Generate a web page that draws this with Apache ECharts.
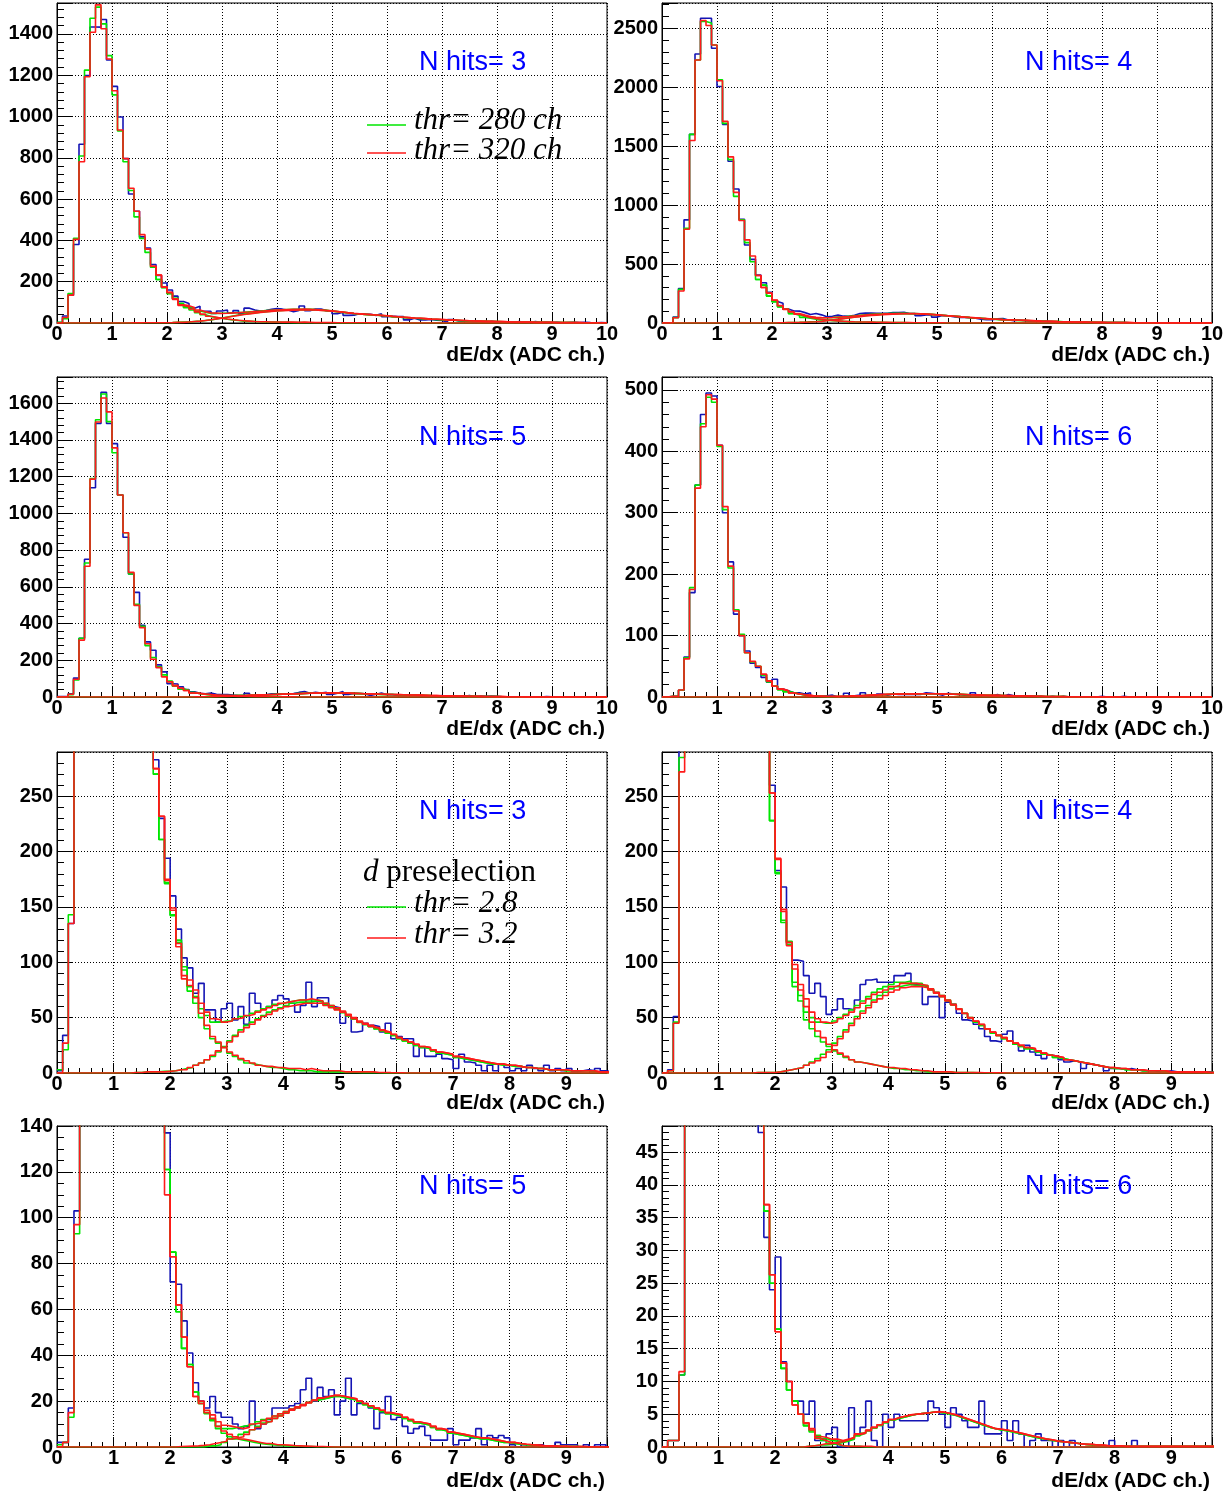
<!DOCTYPE html>
<html>
<head>
<meta charset="utf-8">
<script src="https://cdn.jsdelivr.net/npm/echarts@6/dist/echarts.min.js"></script>
<style>
  html, body { margin: 0; padding: 0; background: #ffffff; }
  #chart { width: 1228px; height: 1494px; }
</style>
</head>
<body>
<div id="chart"></div>
<script>
// dE/dx spectra, bin width 0.1 ADC ch.; bin i covers [i/10, (i+1)/10).
// "data" = measured, "thr280"/"thr320" = simulated totals (thr= 280 / 320 ch, i.e. 2.8 / 3.2),
// "low" = falling (light particle) component, "d" = deuteron component.

// ---------- N hits = 3 ----------
const hits3Data = [
  2,34,135,380,866,1198,1434,1433,1470,1274,
  1146,998,796,625,541,417,363,283,230,194,
  160,130,104,95,72,81,57,57,46,58,
  63,48,60,44,72,63,58,60,66,70,
  67,63,55,61,82,60,68,68,60,59,
  45,52,37,38,45,43,42,37,45,31,
  33,31,31,15,23,15,15,17,13,12,
  4,17,10,9,7,2,7,2,8,5,
  2,4,2,7,4,2,7,2,4,2,
  4,1,2,3,2,4,2,1,2,1];
const hits3Thr280 = [
  3,21,143,410,809,1225,1476,1530,1449,1295,
  1105,930,781,642,514,410,342,270,211,172,
  143,120,96,78,69,58,52,46,46,47,
  47,49,51,52,54,56,58,60,62,63,
  64,65,66,66,66,66,65,63,61,58,
  55,52,49,46,44,42,40,38,36,34,
  31,29,27,25,23,22,20,18,17,16,
  14,13,12,11,10,9,8,8,7,7,
  6,6,5,5,4,4,3,3,3,2,
  2,2,2,2,1,1,1,1,1,1];
const hits3Thr320 = [
  0,27,135,405,781,1193,1408,1541,1425,1279,
  1125,935,796,653,541,428,358,275,232,175,
  149,117,88,84,75,63,55,49,48,46,
  47,49,50,52,53,55,57,59,61,63,
  64,65,66,66,67,66,65,63,61,59,
  56,53,50,47,45,43,41,39,37,35,
  32,30,28,26,24,23,21,19,18,17,
  15,14,13,12,11,10,9,8,8,7,
  7,6,5,5,4,4,3,3,3,3,
  2,2,2,2,2,1,1,1,1,1];
const hits3LowStart = 17;
const hits3Low280 = [
  270,211,171,142,118,93,74,63,50,40,
  31,27,23,18,15,12,9,8,7,6,
  5,5,4,3,3,2,2,2,1,1,
  1,1,1,0.5,0.5,0.5,0.3,0.3,0.2,0.2,
  0.1,0.1,0,0,0,0,0,0,0,0,
  0,0,0,0,0,0,0,0,0,0,
  0,0,0,0,0,0,0,0,0,0,
  0,0,0,0,0,0,0,0,0,0,
  0,0,0];
const hits3Low320 = [
  275,232,174,147,114,85,79,68,54,43,
  33,28,23,19,16,13,11,9,7,6,
  6,5,5,4,4,4,3,4,3,2,
  2,2,2,1,1,1,1,1,1,0.5,
  0.5,0.3,0.2,0.1,0,0,0,0,0,0,
  0,0,0,0,0,0,0,0,0,0,
  0,0,0,0,0,0,0,0,0,0,
  0,0,0,0,0,0,0,0,0,0,
  0,0,0];
const hits3D280 = [
  0,0,0,0,0,0,0,0,0,0,
  0,0,0,0.5,0.5,1,1,1,1.5,1.5,
  2,3,4,5,7,9,12,15,19,24,
  29,34,39,43,46,49,52,55,57,59,
  61,63,64,64,64,65,64,62,60,57.5,
  54.5,51.5,48.5,45.7,43.7,41.8,39.8,37.9,36,34,
  31,29,27,25,23,22,20,18,17,16,
  14,13,12,11,10,9,8,8,7,7,
  6,6,5,5,4,4,3,3,3,2,
  2,2,2,2,1,1,1,1,1,1];
const hits3D320 = [
  0,0,0,0,0,0,0,0,0,0,
  0,0,0,0.5,0.5,1,1,1,1,1.5,
  2,3,3,5,7,9,12,16,20,23,
  28,33,37,41,44,48,51,53,56,58,
  60,61,62,63,63,63,63,61,59,57,
  55,52,49,46,44,42,40.5,38.5,36.7,34.8,
  32,30,28,26,24,23,21,19,18,17,
  15,14,13,12,11,10,9,8,8,7,
  7,6,5,5,4,4,3,3,3,3,
  2,2,2,2,2,1,1,1,1,1];

// ---------- N hits = 4 ----------
const hits4Data = [
  0,3,51,292,875,1600,2281,2585,2585,2330,
  2006,1685,1372,1136,880,662,540,406,341,260,
  183,168,118,102,101,88,72,81,69,53,
  57,67,58,57,66,80,84,85,82,82,
  82,88,88,90,80,80,62,69,69,50,
  64,62,54,48,47,44,40,33,29,28,
  35,38,26,20,25,19,16,13,16,15,
  12,10,11,10,4,8,7,6,2,4,
  4,3,4,3,2,2,2,1,1,2,
  1,1,1,1,1,1,1,0,1,0];
const hits4Thr280 = [
  0,2,46,285,804,1600,2230,2557,2545,2358,
  2063,1693,1386,1074,875,682,520,369,321,228,
  181,138,119,82,70,55,50,46,45,45,
  47,50,53,57,61,65,69,73,76,78,
  80,82,82,83,81,81,79,76,73,70,
  66,62,58,54,50,46,43,40,36,34,
  31,29,26,24,22,21,19,17,16,14,
  13,12,11,10,9,8,7,6,5,4,
  4,3,3,3,2,2,2,2,1,1,
  1,1,1,1,1,0.5,0.5,0.5,0.5,0.5];
const hits4Thr320 = [
  0,2,45,272,795,1548,2230,2565,2523,2358,
  2054,1710,1409,1108,869,705,568,403,301,253,
  194,148,118,98,80,67,55,49,46,45,
  46,49,52,55,59,63,67,71,73,75,
  78,79,81,81,81,80,79,76,73,70,
  66,62,58,54,50,47,44,40,37,34,
  32,29,27,25,23,22,20,18,16,15,
  14,12,11,10,9,8,7,6,5,5,
  4,4,3,3,3,2,2,2,2,1,
  1,1,1,1,1,1,0.5,0.5,0.5,0.5];
const hits4LowStart = 17;
const hits4Low280 = [
  369,321,228,180,136,116,78,65,48,40,
  33,28,24,20,17,14,12,10,9,8,
  7,6,5,4,4,3,3,2,2,1,
  1,1,1,1,0.5,0.5,0.3,0.3,0.2,0.2,
  0.1,0.1,0,0,0,0,0,0,0,0,
  0,0,0,0,0,0,0,0,0,0,
  0,0,0,0,0,0,0,0,0,0,
  0,0,0,0,0,0,0,0,0,0,
  0,0,0];
const hits4Low320 = [
  403,301,253,193,146,115,94,75,60,46,
  38,32,26,21,18,15,12,10,9,8,
  7,6,5,5,4,4,3,3,2,2,
  1,1,1,1,0.5,0.5,0.5,0.3,0.3,0.2,
  0.2,0.1,0.1,0,0,0,0,0,0,0,
  0,0,0,0,0,0,0,0,0,0,
  0,0,0,0,0,0,0,0,0,0,
  0,0,0,0,0,0,0,0,0,0,
  0,0,0];
const hits4D280 = [
  0,0,0,0,0,0,0,0,0,0,
  0,0,0,0,0,0,0.5,0.5,0.5,0.5,
  1,2,3,4,5,7,10,13,17,21,
  27,33,39,45,51,56,61,66,70,73,
  76,78,79,80,79,79,78,75,72,69,
  65,61.5,57.7,53.7,49.8,45.8,42.9,39.9,36,34,
  31,29,26,24,22,21,19,17,16,14,
  13,12,11,10,9,8,7,6,5,4,
  4,3,3,3,2,2,2,2,1,1,
  1,1,1,1,1,0.5,0.5,0.5,0.5,0.5];
const hits4D320 = [
  0,0,0,0,0,0,0,0,0,0,
  0,0,0,0,0,0,0.5,0.5,0.5,0.5,
  1,2,3,4,5,7,9,11,14,19,
  25,31,37,43,49,54,59,64,67,70,
  73,75,77,78,78,78,77,75,72,69,
  65,61.5,57.5,53.7,49.7,46.8,43.8,39.9,36.9,34,
  32,29,27,25,23,22,20,18,16,15,
  14,12,11,10,9,8,7,6,5,5,
  4,4,3,3,3,2,2,2,2,1,
  1,1,1,1,1,1,0.5,0.5,0.5,0.5];

// ---------- N hits = 5 ----------
const hits5Data = [
  2,2,17,103,320,750,1140,1490,1660,1490,
  1380,1100,870,670,570,390,300,255,175,137,
  72,71,55,41,28,20,17,22,15,13,
  13,10,8,9,20,8,10,12,17,17,
  17,18,19,25,30,20,26,22,25,14,
  20,30,14,19,19,17,8,15,22,12,
  13,9,6,8,9,5,3,3,3,8,
  1,3,3,4,8,1,5,4,5,4,
  1,0,1,0,0,1,0,0,2,1,
  1,1,0,1,0,1,1,0,0,0];
const hits5Thr280 = [
  1,2,13,93,320,730,1190,1510,1650,1500,
  1330,1100,895,670,505,385,280,215,165,121,
  85,59,43,36,24,19,15,12,9,8,
  8,8.5,9,9.5,10,11,12,12.5,13.5,14.5,
  15.5,16.5,17.5,18.5,19.5,20.5,21,21.5,22,22,
  21.5,21,20.5,19.5,18.5,17.5,16.5,15.5,14.5,14,
  13.5,12.5,11.5,10.5,10,9.5,8.5,7.5,7,6,
  5.5,5,4.5,4,3.5,3.5,3,2.5,2,2,
  1.5,1.2,1,0.8,0.6,0.5,0.4,0.3,0.3,0.2,
  0.2,0.2,0.1,0.1,0.1,0.1,0.1,0.1,0.1,0.1];
const hits5Thr320 = [
  0,2,15,97,310,712,1187,1498,1629,1553,
  1357,1100,895,679,499,378,290,206,160,110,
  83,62,48,35,22,20,16,14,11,9.5,
  9,8.5,8,8.5,10,10.5,11.5,12.5,13.5,14.5,
  15.5,16.5,17.5,18.5,19.5,20.5,21.5,22,22.5,22.5,
  22,21.5,21,20,19,18,17,16,15,14.5,
  14,13,12,11,10.5,10,9,8,7.5,6.5,
  6,5.5,5,4.5,4,4,3.5,3,2.5,2,
  2,1.5,1.2,1,0.8,0.6,0.5,0.4,0.3,0.3,
  0.2,0.2,0.2,0.1,0.1,0.1,0.1,0.1,0.1,0.1];
const hits5LowStart = 19;
const hits5Low280 = [
  121,85,59,43,36,24,19,14.5,11.5,8,
  6,4.5,3.5,3,2.5,2,1.5,1.2,1,0.8,
  0.6,0.5,0.4,0.3,0.2,0.2,0.1,0.1,0,0,
  0,0,0,0,0,0,0,0,0,0,
  0,0,0,0,0,0,0,0,0,0,
  0,0,0,0,0,0,0,0,0,0,
  0,0,0,0,0,0,0,0,0,0,
  0,0,0,0,0,0,0,0,0,0,
  0];
const hits5Low320 = [
  110,83,62,48,35,22,19,15,12.5,9,
  7,5.5,4.5,3.5,3,2.5,2,1.5,1.5,1,
  1,0.8,0.6,0.5,0.4,0.3,0.2,0.2,0.1,0,
  0,0,0,0,0,0,0,0,0,0,
  0,0,0,0,0,0,0,0,0,0,
  0,0,0,0,0,0,0,0,0,0,
  0,0,0,0,0,0,0,0,0,0,
  0,0,0,0,0,0,0,0,0,0,
  0];
const hits5D280 = [
  0,0,0,0,0,0,0,0,0,0,
  0,0,0,0,0,0,0,0,0,0,
  0,0,0,0,0,0,0.5,0.5,1,2,
  3.5,4.5,5.5,6.5,7.5,9,10.5,11.3,12.5,13.7,
  14.9,16,17,18.2,19.3,20.3,20.8,21.4,22,22,
  21.5,21,20.5,19.5,18.5,17.5,16.5,15.5,14.5,14,
  13.5,12.5,11.5,10.5,10,9.5,8.5,7.5,7,6,
  5.5,5,4.5,4,3.5,3.5,3,2.5,2,2,
  1.5,1.2,1,0.8,0.6,0.5,0.4,0.3,0.3,0.2,
  0.2,0.2,0.1,0.1,0.1,0.1,0.1,0.1,0.1,0.1];
const hits5D320 = [
  0,0,0,0,0,0,0,0,0,0,
  0,0,0,0,0,0,0,0,0,0,
  0,0.2,0.3,0.4,0.5,0.7,1,1.5,2,2.5,
  3.5,4,4.5,5.5,7.5,8.5,10,11,12.5,13.5,
  14.7,16,17,18,19.2,20.3,21.3,21.9,22.5,22.5,
  22,21.5,21,20,19,18,17,16,15,14.5,
  14,13,12,11,10.5,10,9,8,7.5,6.5,
  6,5.5,5,4.5,4,4,3.5,3,2.5,2,
  2,1.5,1.2,1,0.8,0.6,0.5,0.4,0.3,0.3,
  0.2,0.2,0.2,0.1,0.1,0.1,0.1,0.1,0.1,0.1];

// ---------- N hits = 6 ----------
const hits6Data = [
  0,1,1,11,65,170,345,460,495,490,
  410,300,220,135,100,75,55,48,32,24,
  29,13,10,7,7,5,7,1,1,2,
  3,0,0,6,2,3,7,1,0,5,
  3,5,4,4,4,4,4,7,6,5,
  3,6,5,4,3,3,7,2,2,2,
  4,1,4,2,0,1,2,1,1,0,
  1,0,1,0,0,0,0,0,0,1,
  0,0,0,1,0,0,0,0,0,0,
  0,0,0,0,0,0,0,0,0,0];
const hits6Thr280 = [
  0,1,1,11,64,178,345,445,488,480,
  408,305,210,142,102,72,57,50,36,25,
  18,12,8.7,7,5,3.3,2.5,1.8,1.3,1.0,
  0.9,0.9,1.0,1.3,1.8,2.1,2.5,2.9,3.3,3.7,
  4.1,4.4,4.6,4.8,5.0,5.1,5.2,5.3,5.3,5.2,
  5.0,4.8,4.5,4.2,3.9,3.6,3.3,3.0,2.8,2.6,
  2.5,2.3,2.1,1.9,1.7,1.5,1.3,1.2,1.0,0.9,
  0.8,0.7,0.6,0.5,0.4,0.3,0.3,0.2,0.2,0.2,
  0.1,0.1,0.1,0.1,0.1,0.1,0.1,0.1,0.1,0.1,
  0.1,0.1,0.1,0.1,0.1,0.1,0.1,0.1,0.1,0.1];
const hits6Thr320 = [
  0,1,1,11.5,62,175,340,440,492,485,
  410,310,213,140,100,72,58,50,37,26.3,
  17.6,12.8,10,6.4,5,3.7,2.8,1.6,1.5,1.2,
  1.2,1.0,1.2,1.5,2.0,2.2,2.6,3.0,3.4,3.8,
  4.2,4.5,4.7,4.9,5.0,5.1,5.2,5.3,5.4,5.3,
  5.1,4.9,4.6,4.3,4.0,3.7,3.4,3.1,2.8,2.7,
  2.6,2.4,2.2,2.0,1.8,1.6,1.4,1.2,1.1,0.9,
  0.8,0.7,0.6,0.5,0.4,0.4,0.3,0.3,0.2,0.2,
  0.2,0.1,0.1,0.1,0.1,0.1,0.1,0.1,0.1,0.1,
  0.1,0.1,0.1,0.1,0.1,0.1,0.1,0.1,0.1,0.1];
const hits6LowStart = 18;
const hits6Low280 = [
  36,25,18,12,8.7,7,5,3.2,2.3,1.5,
  1.0,0.6,0.4,0.2,0.1,0.1,0.1,0,0,0,
  0,0,0,0,0,0,0,0,0,0,
  0,0,0,0,0,0,0,0,0,0,
  0,0,0,0,0,0,0,0,0,0,
  0,0,0,0,0,0,0,0,0,0,
  0,0,0,0,0,0,0,0,0,0,
  0,0,0,0,0,0,0,0,0,0,
  0,0];
const hits6Low320 = [
  37,26.3,17.6,12.8,10,6.4,5,3.6,2.6,1.3,
  1.0,0.7,0.5,0.2,0.1,0.1,0.1,0.1,0.1,0,
  0,0,0,0,0,0,0,0,0,0,
  0,0,0,0,0,0,0,0,0,0,
  0,0,0,0,0,0,0,0,0,0,
  0,0,0,0,0,0,0,0,0,0,
  0,0,0,0,0,0,0,0,0,0,
  0,0,0,0,0,0,0,0,0,0,
  0,0];
const hits6D280 = [
  0,0,0,0,0,0,0,0,0,0,
  0,0,0,0,0,0,0,0,0,0,
  0,0,0,0,0,0.1,0.2,0.3,0.3,0.4,
  0.5,0.7,0.9,1.2,1.7,2.1,2.5,2.9,3.3,3.7,
  4.1,4.4,4.6,4.8,5.0,5.1,5.2,5.3,5.3,5.2,
  5.0,4.8,4.5,4.2,3.9,3.6,3.3,3.0,2.8,2.6,
  2.5,2.3,2.1,1.9,1.7,1.5,1.3,1.2,1.0,0.9,
  0.8,0.7,0.6,0.5,0.4,0.3,0.3,0.2,0.2,0.2,
  0.1,0.1,0.1,0.1,0.1,0.1,0.1,0.1,0.1,0.1,
  0.1,0.1,0.1,0.1,0.1,0.1,0.1,0.1,0.1,0.1];
const hits6D320 = [
  0,0,0,0,0,0,0,0,0,0,
  0,0,0,0,0,0,0,0,0,0,
  0,0,0,0,0,0.1,0.2,0.3,0.5,0.5,
  0.7,0.8,1.1,1.4,1.9,2.1,2.5,3.0,3.4,3.8,
  4.2,4.5,4.7,4.9,5.0,5.1,5.2,5.3,5.4,5.3,
  5.1,4.9,4.6,4.3,4.0,3.7,3.4,3.1,2.8,2.7,
  2.6,2.4,2.2,2.0,1.8,1.6,1.4,1.2,1.1,0.9,
  0.8,0.7,0.6,0.5,0.4,0.4,0.3,0.3,0.2,0.2,
  0.2,0.1,0.1,0.1,0.1,0.1,0.1,0.1,0.1,0.1,
  0.1,0.1,0.1,0.1,0.1,0.1,0.1,0.1,0.1,0.1];

// ---------- assemble ----------
const sets = {
  3: { data: hits3Data, t280: hits3Thr280, t320: hits3Thr320, lowStart: hits3LowStart,
       low280: hits3Low280, low320: hits3Low320, d280: hits3D280, d320: hits3D320 },
  4: { data: hits4Data, t280: hits4Thr280, t320: hits4Thr320, lowStart: hits4LowStart,
       low280: hits4Low280, low320: hits4Low320, d280: hits4D280, d320: hits4D320 },
  5: { data: hits5Data, t280: hits5Thr280, t320: hits5Thr320, lowStart: hits5LowStart,
       low280: hits5Low280, low320: hits5Low320, d280: hits5D280, d320: hits5D320 },
  6: { data: hits6Data, t280: hits6Thr280, t320: hits6Thr320, lowStart: hits6LowStart,
       low280: hits6Low280, low320: hits6Low320, d280: hits6D280, d320: hits6D320 }
};

// pad layout: full-range spectra (top two rows) and zoomed tails (bottom two rows)
const LEFT_X = 57, RIGHT_X = 662, PAD_W = 550;
const panels = [
  { n: 3, left: LEFT_X,  top: 3,    height: 320, xMax: 10,   yMax: 1550, yStep: 200, yMinor: 5 },
  { n: 4, left: RIGHT_X, top: 3,    height: 320, xMax: 10,   yMax: 2714, yStep: 500, yMinor: 5 },
  { n: 5, left: LEFT_X,  top: 377,  height: 320, xMax: 10,   yMax: 1743, yStep: 200, yMinor: 5 },
  { n: 6, left: RIGHT_X, top: 377,  height: 320, xMax: 10,   yMax: 521,  yStep: 100, yMinor: 5 },
  { n: 3, left: LEFT_X,  top: 752,  height: 321, xMax: 9.72, yMax: 290,  yStep: 50,  yMinor: 5 },
  { n: 4, left: RIGHT_X, top: 752,  height: 321, xMax: 9.72, yMax: 290,  yStep: 50,  yMinor: 5 },
  { n: 5, left: LEFT_X,  top: 1126, height: 321, xMax: 9.72, yMax: 140,  yStep: 20,  yMinor: 4 },
  { n: 6, left: RIGHT_X, top: 1126, height: 321, xMax: 9.72, yMax: 49,   yStep: 5,   yMinor: 5 }
];

const C_DATA = '#1414b4', C_280 = '#00e600', C_320 = '#ff1a1a';
const LABEL_FONT = { color: '#000', fontFamily: 'Liberation Sans', fontWeight: 'bold', fontSize: 20 };
const GRID_LINE = { color: '#000', width: 1, type: [1, 2] };

// histogram outline: points at bin low edges, closed at the upper edge of the last bin
function steps(values, startBin) {
  const pts = values.map((v, i) => [(startBin + i) / 10, v]);
  pts.push([(startBin + values.length) / 10, values[values.length - 1]]);
  return pts;
}

function histSeries(idx, values, startBin, color) {
  return {
    type: 'line', xAxisIndex: idx, yAxisIndex: idx,
    step: 'end', symbol: 'none', silent: true, clip: true,
    lineStyle: { color: color, width: 1.6 },
    data: steps(values, startBin)
  };
}

const grids = [], xAxes = [], yAxes = [], series = [];
panels.forEach((p, i) => {
  const s = sets[p.n];
  grids.push({ left: p.left, top: p.top, width: PAD_W, height: p.height,
               show: true, borderColor: '#000', borderWidth: 1, backgroundColor: 'transparent' });
  xAxes.push({
    type: 'value', gridIndex: i, min: 0, max: p.xMax, interval: 1,
    axisLine: { show: true, onZero: false, lineStyle: { color: '#000', width: 1 } },
    axisTick: { show: true, inside: true, length: 10, lineStyle: { color: '#000', width: 1 } },
    minorTick: { show: true, splitNumber: 5, length: 5, lineStyle: { color: '#000', width: 1 } },
    splitLine: { show: true, lineStyle: GRID_LINE },
    axisLabel: Object.assign({ margin: 1, hideOverlap: false, showMinLabel: true,
                               showMaxLabel: p.xMax === 10, formatter: v => String(v) }, LABEL_FONT)
  });
  yAxes.push({
    type: 'value', gridIndex: i, min: 0, max: p.yMax, interval: p.yStep,
    axisLine: { show: true, onZero: false, lineStyle: { color: '#000', width: 1 } },
    axisTick: { show: true, inside: true, length: 15, lineStyle: { color: '#000', width: 1 } },
    minorTick: { show: true, splitNumber: p.yMinor, length: 7, lineStyle: { color: '#000', width: 1 } },
    splitLine: { show: true, lineStyle: GRID_LINE },
    axisLabel: Object.assign({ margin: 4, hideOverlap: false, showMinLabel: true,
                               showMaxLabel: p.yMax % p.yStep === 0, formatter: v => String(v) }, LABEL_FONT)
  });
  series.push(histSeries(i, s.data, 0, C_DATA));
  series.push(histSeries(i, s.low280, s.lowStart, C_280));
  series.push(histSeries(i, s.d280, 0, C_280));
  series.push(histSeries(i, s.t280, 0, C_280));
  series.push(histSeries(i, s.low320, s.lowStart, C_320));
  series.push(histSeries(i, s.d320, 0, C_320));
  series.push(histSeries(i, s.t320, 0, C_320));
});

// annotations: pad titles, axis titles, legends
const graphic = [];
const titleRows = [63, 438, 812, 1187];
const axisTitleRows = [355, 729, 1103, 1481];
panels.forEach((p, i) => {
  const row = Math.floor(i / 2);
  const isLeft = p.left === LEFT_X;
  graphic.push({ type: 'text', x: isLeft ? 419 : 1025, y: titleRows[row], z: 100,
    style: { text: 'N hits= ' + p.n, fill: '#0000ff', font: '27px "Liberation Sans"',
             align: 'left', verticalAlign: 'middle' } });
  graphic.push({ type: 'text', x: isLeft ? 605 : 1210, y: axisTitleRows[row], z: 100,
    style: { text: 'dE/dx (ADC ch.)', fill: '#000', font: 'bold 21px "Liberation Sans"',
             align: 'right', verticalAlign: 'middle' } });
});
const SERIF_IT = 'italic 31px "Liberation Serif"';
function legendEntry(lineY, textY, color, label) {
  graphic.push({ type: 'line', z: 100, shape: { x1: 367, y1: lineY, x2: 406, y2: lineY },
                 style: { stroke: color, lineWidth: 1.5 } });
  graphic.push({ type: 'text', x: 414, y: textY, z: 100,
                 style: { text: label, fill: '#000', font: SERIF_IT, align: 'left', verticalAlign: 'middle' } });
}
legendEntry(125, 121, C_280, 'thr= 280 ch');
legendEntry(153, 151, C_320, 'thr= 320 ch');
graphic.push({ type: 'text', x: 363, y: 873, z: 100,
  style: { text: '{i|d}{r| preselection}', fill: '#000', align: 'left', verticalAlign: 'middle',
           rich: { i: { font: SERIF_IT, fill: '#000' }, r: { font: '31px "Liberation Serif"', fill: '#000' } } } });
legendEntry(907, 904, C_280, 'thr= 2.8');
legendEntry(938, 935, C_320, 'thr= 3.2');

const chart = echarts.init(document.getElementById('chart'), null, { renderer: 'canvas' });
chart.setOption({
  animation: false,
  backgroundColor: '#ffffff',
  grid: grids, xAxis: xAxes, yAxis: yAxes, series: series, graphic: graphic
});
</script>
</body>
</html>
